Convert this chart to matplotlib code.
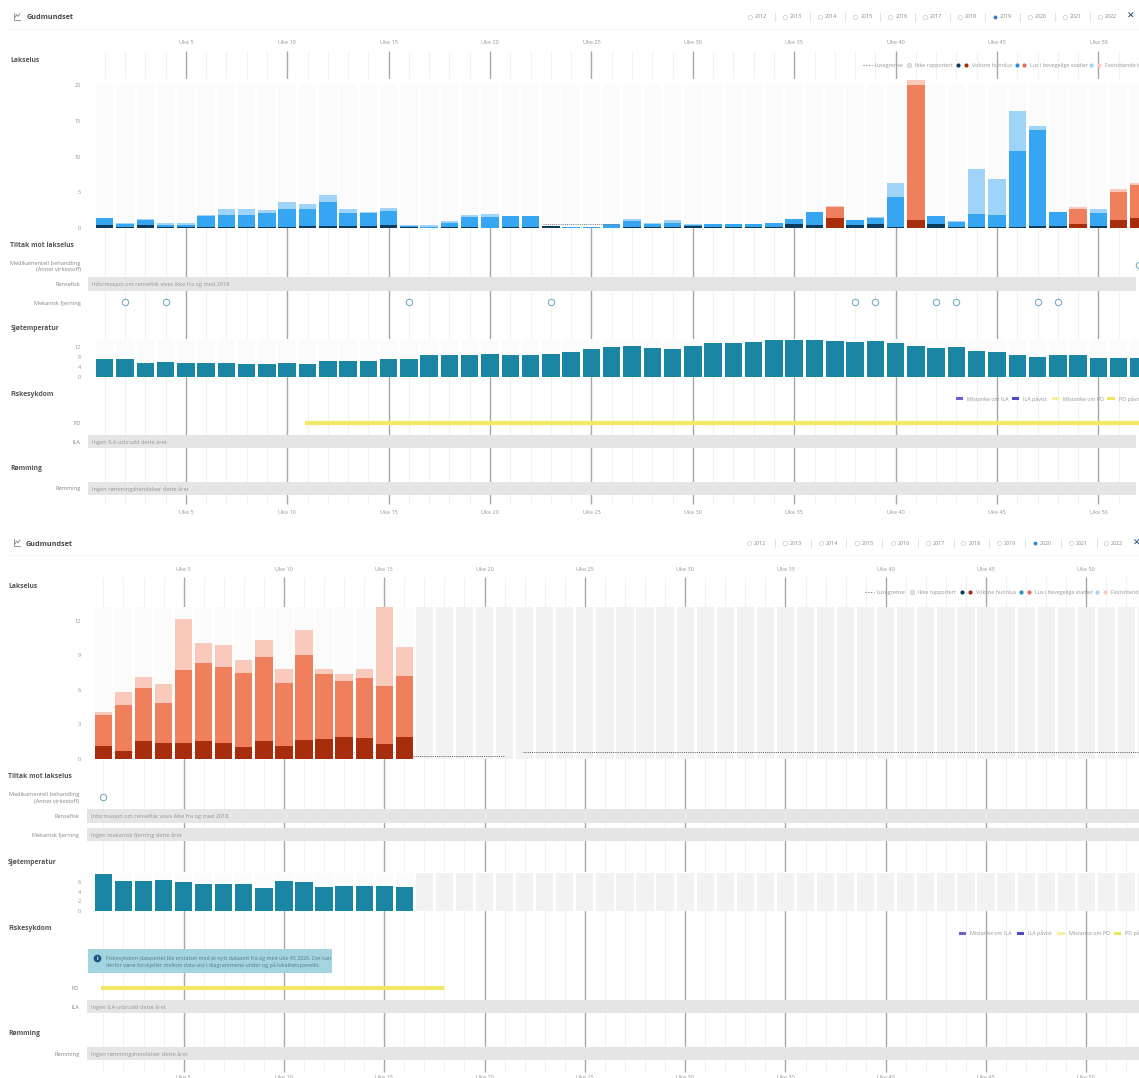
import numpy as np
import matplotlib
matplotlib.use('Agg')
import matplotlib.pyplot as plt

plt.rcParams['font.family'] = ['Open Sans', 'DejaVu Sans']

W, H = 1139, 1078

# 2019 - cumulative tops per week
hunnlus_2019 = [.45, .25, .45, .25, .25, .2, .2, .2, .25, .15, .3, .3, .3, .3, .45, .15, .1, .15, .15, .05, .2, .15, .3, .1,
                .1, .1, .2, .15, .15, .35, .2, .25, .15, .25, .55, .45, 1.4, .45, .6, .15, 1.15, .6, .15, .15, .25, .25,
                .3, .3, .65, .3, 1.15, 1.45]
bevegelige_2019 = [1.5, .6, 1.2, .4, .4, 1.7, 1.85, 1.85, 2.2, 2.7, 2.65, 3.6, 2.2, 2.2, 2.4, .3, .25, .7, 1.55, 1.6, 1.65, 1.65, .35, .2,
                   .2, .6, .95, .65, .7, .5, .6, .6, .6, .8, 1.3, 2.25, 3.0, 1.1, 1.5, 4.3, 20, 1.7, .85, 2.0, 1.8, 10.7,
                   13.7, 2.25, 2.65, 2.1, 5.1, 6.0]
total_2019 = [1.5, .7, 1.25, .75, .75, 1.8, 2.65, 2.75, 2.55, 3.65, 3.35, 4.7, 2.65, 2.25, 2.85, .45, .45, 1.0, 1.8, 2.0, 1.7, 1.65, .35, .25,
              .25, .62, 1.35, .8, 1.1, .6, .6, .6, .62, .8, 1.3, 2.3, 3.15, 1.1, 1.55, 6.3, 20.7, 1.7, .95, 8.25, 6.9, 16.35,
              14.3, 2.3, 3.0, 2.75, 5.5, 6.3]
over_grense_2019 = [37, 41, 49, 51, 52]
temp_2019 = [7.1, 7.1, 5.7, 5.85, 5.7, 5.6, 5.6, 5.3, 5.3, 5.7, 5.0, 6.25, 6.25, 6.25, 7.1, 7.35, 8.7, 8.7, 8.7, 9.4, 8.7, 9.0, 9.1, 9.9,
             11.2, 12.1, 12.65, 11.7, 11.4, 12.5, 13.9, 13.9, 14.15, 15, 14.8, 15, 14.6, 14, 14.6, 13.75, 12.65, 11.55, 12.1,
             10.6, 10.2, 9, 8, 9, 8.7, 7.75, 7.75, 7.75]
mekanisk_2019 = [2, 4, 16, 23, 38, 39, 42, 43, 47, 48]
medisin_2019 = [52]

# 2020
hunnlus_2020 = [1.1, .7, 1.53, 1.42, 1.42, 1.53, 1.42, 1.04, 1.53, 1.16, 1.65, 1.73, 1.88, 1.82, 1.27, 1.88]
bevegelige_2020 = [3.8, 4.7, 6.13, 4.83, 7.72, 8.35, 8.0, 7.45, 8.87, 6.6, 9.05, 7.37, 6.76, 7.05, 6.36, 7.2]
total_2020 = [4.07, 5.8, 7.1, 6.53, 12.1, 10.03, 9.85, 8.6, 10.3, 7.83, 11.15, 7.77, 7.37, 7.83, 13.15, 9.74]
temp_2020 = [7.7, 6.2, 6.2, 6.5, 6.07, 5.65, 5.6, 5.6, 4.83, 6.2, 6.07, 5.03, 5.24, 5.24, 5.24, 4.97]
medisin_2020 = [1]

years = ['2012', '2013', '2014', '2015', '2016', '2017', '2018', '2019', '2020', '2021', '2022']

BLUE = ['#0b3c5d', '#36a6f2', '#9fd3f8']
RED = ['#a82d0d', '#f07f5e', '#f9c9bb']
TEAL = '#1a86a3'
GREY_TXT = '#858585'
BAND = '#e5e5e5'
PANEL = '#fbfbfb'

fig = plt.figure(figsize=(W / 100, H / 100), dpi=100, facecolor='white')


def add_ax(left, top, right, bottom, z):
    ax = fig.add_axes([left / W, 1 - bottom / H, (right - left) / W, (bottom - top) / H], zorder=z)
    return ax


def week_lim(left, right, week1, step):
    return (left - week1) / step + 1, (right - week1) / step + 1


# page axes in pixels, for text and grey bands
page = add_ax(0, 0, W, H, 2)
page.set_xlim(0, W)
page.set_ylim(H, 0)
page.axis('off')
page.patch.set_alpha(0)


def txt(x, y, s, size=4.1, color=GREY_TXT, ha='left', weight='normal', **kw):
    page.text(x, y, s, fontsize=size, color=color, ha=ha, va='center_baseline', fontweight=weight, **kw)


def band(top, bottom, left, right, label=None):
    page.fill_between([left, right], top, bottom, color=BAND, lw=0)
    if label:
        txt(left + 4, (top + bottom) / 2, label, size=4.1, color='#959595')


def header(y, xs_radio, xs_sep, sel, xclose, title_x):
    page.plot([14, 14, 20], [y - 4, y + 3, y + 3], color='#888888', lw=.6)
    page.plot([15, 16.5, 18, 20], [y + 1, y - 2, y, y - 3], color='#888888', lw=.6)
    txt(title_x, y, 'Gudmundset', size=5.2, color='#444444', weight='bold')
    for i, yr in enumerate(years):
        x = 570 + xs_radio[i] / 2.75
        if yr == sel:
            page.plot(x, y, 'o', ms=2.8, color='#2f80d8', mec='none')
        else:
            page.plot(x, y, 'o', ms=3.2, mfc='white', mec='#cccccc', mew=.5)
        txt(x + 5, y, yr, size=3.9, color='#858585')
    for s in xs_sep:
        x = 570 + s / 2.75
        page.plot([x, x], [y - 4, y + 4], color='#dddddd', lw=.6)
    page.text(xclose, y, '\u2715', fontsize=6.5, color='#12406f', ha='center', va='center', fontweight='bold',
              family='DejaVu Sans')


def lice_legend(y, x):
    # x: zoomed positions of the legend items in the right half
    p = lambda v: 570 + v / 2.75
    page.plot([p(x[0]), p(x[0] + 25)], [y, y], color='#777777', lw=.8, ls=(0, (1, 1.5)))
    txt(p(x[0] + 33), y, 'Lusegrense', size=3.9, color='#959595')
    page.plot(p(x[1]), y, 'o', ms=3, mfc='#e4e4e4', mec='#c4c4c4', mew=.5)
    txt(p(x[1] + 17), y, 'Ikke rapportert', size=3.9, color='#959595')
    page.plot(p(x[2]), y, 'o', ms=3, color=BLUE[0], mec='none')
    page.plot(p(x[2] + 21), y, 'o', ms=3, color=RED[0], mec='none')
    txt(p(x[2] + 38), y, 'Voksne hunnlus', size=3.9, color='#959595')
    page.plot(p(x[3]), y, 'o', ms=3, color='#2b8fd0', mec='none')
    page.plot(p(x[3] + 21), y, 'o', ms=3, color='#ea6a55', mec='none')
    txt(p(x[3] + 38), y, 'Lus i bevegelige stadier', size=3.9, color='#959595')
    page.plot(p(x[4]), y, 'o', ms=3, color=BLUE[2], mec='none')
    page.plot(p(x[4] + 21), y, 'o', ms=3, color=RED[2], mec='none')
    txt(p(x[4] + 37), y, 'Fastsittende lus', size=3.9, color='#959595')


def disease_legend(y, x):
    p = lambda v: 570 + v / 2.75
    items = [('Mistanke om ILA', '#6a5fd8', '////'), ('ILA påvist', '#5147c9', None),
             ('Mistanke om PD', '#f7ef9a', '////'), ('PD påvist', '#f2e35c', None)]
    for xi, (label, col, hatch) in zip(x, items):
        page.fill_between([p(xi - 10), p(xi + 10)], y - 1.5, y + 1.5, color=col, lw=0)
        txt(p(xi + 21), y, label, size=3.9, color='#959595')


def grid(top, bottom, week1, step, n_weeks):
    ax = add_ax(0, 0, W, H, 1)
    ax.set_xlim(*week_lim(0, W, week1, step))
    ax.set_ylim(H, 0)
    ax.axis('off')
    weeks = np.arange(1, n_weeks + 1)
    minor = [w for w in weeks if w % 5 != 0]
    major = [w for w in weeks if w % 5 == 0]
    ax.vlines(minor, top, bottom, color='#f2f2f2', lw=.8)
    ax.vlines(major, top, bottom, color='#a8a8a8', lw=1.0)
    return ax


def panel(left, top, base, week1, step, px_per_unit, ticks):
    ax = add_ax(left, top, W, base, 3)
    ax.set_xlim(*week_lim(left, W, week1, step))
    ax.set_ylim(0, (base - top) / px_per_unit)
    for s in ax.spines.values():
        s.set_visible(False)
    ax.set_xticks([])
    ax.set_yticks(ticks)
    ax.tick_params(axis='y', length=0, labelsize=4, labelcolor='#959595', pad=5)
    return ax


def week_labels(ax_grid, y, n=50):
    for w in range(5, n + 1, 5):
        ax_grid.text(w, y, 'Uke %d' % w, fontsize=4, color='#959595', ha='center', va='center_baseline')


def circles(ax_grid, weeks, y):
    ax_grid.plot(weeks, [y] * len(weeks), 'o', ms=4.6, mfc='white', mec='#78adc0', mew=.8, ls='none', clip_on=True)


BW = .86

# ---------- 2019 ----------
wk1, st = 104.7, 20.28
g = grid(51, 504, wk1, st, 52)
week_labels(g, 42)
week_labels(g, 512)

ax = panel(88, 79, 228.3, wk1, st, 7.18, [0, 5, 10, 15, 20])
w = np.arange(1, 53)
ax.bar(w, [20] * 52, width=BW, color=PANEL)
for i in range(52):
    cols = RED if w[i] in over_grense_2019 else BLUE
    ax.bar(w[i], total_2019[i], width=BW, color=cols[2])
    ax.bar(w[i], bevegelige_2019[i], width=BW, color=cols[1])
    ax.bar(w[i], hunnlus_2019[i], width=BW, color=cols[0])
ax.plot([22.6, 26.3], [.55, .55], color='#777777', lw=.7, ls=(0, (1, 1.2)))

t = panel(88, 339, 376.7, wk1, st, 2.45, [0, 4, 8, 12])
t.bar(w, [15] * 52, width=BW, color=PANEL)
t.bar(w, temp_2019, width=BW, color=TEAL)

page.plot([8, W], [29, 29], color='#f6f6f6', lw=.8)
header(16.5, [495, 591, 688, 785, 881, 977, 1073, 1168, 1265, 1361, 1457],
       [565, 660, 757, 853, 949, 1045, 1141, 1237, 1333, 1430], '2019', 1131, 27)
lice_legend(64.7, [805, 933, 1068, 1228, 1433])
disease_legend(398.7, [1072, 1226, 1336, 1488])

for y, s in [(59, 'Lakselus'), (244.5, 'Tiltak mot lakselus'), (328, 'Sjøtemperatur'), (393, 'Fiskesykdom'), (467, 'Rømming')]:
    txt(10.5, y, s, size=4.9, color='#555555', weight='bold')
for y, s in [(262.7, 'Medikamentell behandling'), (269, '(Annet virkestoff)'), (284, 'Rensefisk'), (303, 'Mekanisk fjerning'),
             (423, 'PD'), (442, 'ILA'), (488, 'Rømming')]:
    txt(80.7, y, s, size=4.1, ha='right')

band(277, 290.7, 88, 1135.5, 'Informasjon om rensefisk vises ikke fra og med 2018')
band(435, 448, 88, 1135.5, 'Ingen ILA-utbrudd dette året')
band(481.7, 494.7, 88, 1135.5, 'Ingen rømmingshendelser dette året')
circles(g, mekanisk_2019, 302.3)
circles(g, medisin_2019, 265)
g.plot([10.9, 52], [423, 423], color='#f2e766', lw=3, solid_capstyle='butt')

# ---------- 2020 ----------
wk1, st = 103.4, 20.06
g2 = grid(577, 1072, wk1, st, 53)
week_labels(g2, 569)
week_labels(g2, 1077)

ax2 = panel(88, 607, 759, wk1, st, 11.53, [0, 3, 6, 9, 12])
w = np.arange(1, 54)
ax2.bar(w[:16], [13.2] * 16, width=BW, color=PANEL)
ax2.bar(w[16:], [13.2] * 37, width=BW, color='#f2f2f2')
w16 = w[:16]
ax2.bar(w16, total_2020, width=BW, color=RED[2])
ax2.bar(w16, bevegelige_2020, width=BW, color=RED[1])
ax2.bar(w16, hunnlus_2020, width=BW, color=RED[0])
ax2.plot([.6, 16.4], [.58, .58], color='#7a3a2a', lw=.5, ls=(0, (1, 1.5)), alpha=.6)
ax2.plot([16.45, 21], [.23, .23], color='#555555', lw=.7, ls=(0, (1, 1.2)))
ax2.plot([21.9, 53], [.58, .58], color='#555555', lw=.7, ls=(0, (1, 1.2)))

t2 = panel(88, 872, 911, wk1, st, 4.83, [0, 2, 4, 6])
t2.bar(w[:16], [7.9] * 16, width=BW, color=PANEL)
t2.bar(w[16:], [7.9] * 37, width=BW, color='#f2f2f2')
t2.bar(w16, temp_2020, width=BW, color=TEAL)

page.plot([8, W], [555, 555], color='#f6f6f6', lw=.8)
header(543, [493, 592, 690, 788, 887, 984, 1082, 1180, 1278, 1377, 1473],
       [565, 662, 760, 858, 957, 1055, 1153, 1251, 1349, 1448], '2020', 1137, 25.5)
lice_legend(592.3, [810, 940, 1078, 1241, 1450])
disease_legend(933, [1080, 1239, 1350, 1506])

for y, s in [(586, 'Lakselus'), (775.7, 'Tiltak mot lakselus'), (861, 'Sjøtemperatur'), (927.3, 'Fiskesykdom'), (1032.7, 'Rømming')]:
    txt(8, y, s, size=4.9, color='#555555', weight='bold')
for y, s in [(794, 'Medikamentell behandling'), (800.6, '(Annet virkestoff)'), (816, 'Rensefisk'), (835, 'Mekanisk fjerning'),
             (987.7, 'PD'), (1007, 'ILA'), (1054, 'Rømming')]:
    txt(79.3, y, s, size=4.1, ha='right')

band(809, 822.7, 87.3, W, 'Informasjon om rensefisk vises ikke fra og med 2018')
band(827.7, 841.3, 87.3, W, 'Ingen mekanisk fjerning dette året')
band(1000, 1013.3, 87.3, W, 'Ingen ILA-utbrudd dette året')
band(1047, 1060.3, 87.3, W, 'Ingen rømmingshendelser dette året')
circles(g2, medisin_2020, 796.7)
g2.plot([.9, 18], [987.7, 987.7], color='#f2e766', lw=3, solid_capstyle='butt')

# info box
page.fill_between([88, 332.4], 949.3, 973.3, color='#a3d4df', lw=0)
page.plot(97, 958, 'o', ms=5.5, color='#14567f', mec='none')
page.text(97, 958, 'i', fontsize=4, color='white', ha='center', va='center', fontweight='bold')
txt(106.5, 958.3, 'Fiskesykdom-datasettet ble erstattet med et nytt datasett fra og med uke 45 2020. Det kan', size=3.85, color='#5a7a84')
txt(106.5, 965, 'derfor være forskjeller mellom data vist i diagrammene under og på lokalitetspanelet.', size=3.85, color='#5a7a84')

fig.savefig('out.png', dpi=100)
